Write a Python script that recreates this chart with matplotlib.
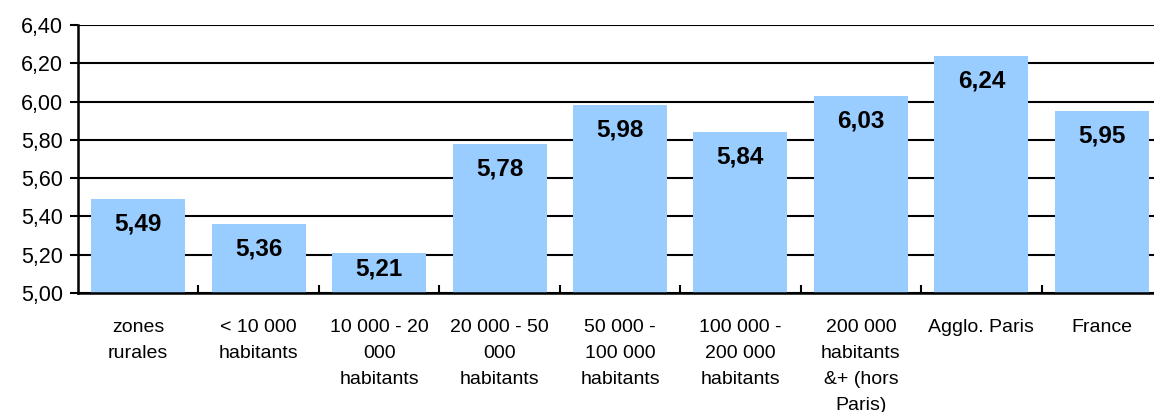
import numpy as np
import matplotlib.pyplot as plt
from matplotlib.ticker import FuncFormatter, FixedLocator

plt.rcParams['font.family'] = ['Liberation Sans', 'DejaVu Sans']

categories = [
    "zones\nrurales",
    "< 10 000\nhabitants",
    "10 000 - 20\n000\nhabitants",
    "20 000 - 50\n000\nhabitants",
    "50 000 -\n100 000\nhabitants",
    "100 000 -\n200 000\nhabitants",
    "200 000\nhabitants\n&+ (hors\nParis)",
    "Agglo. Paris",
    "France",
]
values = [5.49, 5.36, 5.21, 5.78, 5.98, 5.84, 6.03, 6.24, 5.95]

fig = plt.figure(figsize=(11.54, 4.12), dpi=100)
# the chart is cropped on the right in the reference, so the axes run past the figure
ax = fig.add_axes([78 / 1154, 1 - 293 / 412, 1084 / 1154, 268 / 412])

x = np.arange(len(values))
ax.bar(x, np.array(values) - 5.0, bottom=5.0, width=0.78, color='#99CCFF', zorder=3)

ax.set_xlim(-0.5, len(values) - 0.5)
ax.set_ylim(5.0, 6.4)
ax.set_yticks(np.arange(5.0, 6.41, 0.2))
ax.yaxis.set_major_formatter(FuncFormatter(lambda v, p: f"{v:.2f}".replace('.', ',')))
ax.grid(axis='y', color='black', linewidth=1.5, zorder=1)

# category labels without ticks, tick marks at category boundaries
ax.set_xticks(x)
ax.set_xticklabels(categories, fontsize=14, linespacing=1.68, va='top')
ax.tick_params(axis='x', length=0, pad=19)
ax.xaxis.set_minor_locator(FixedLocator(np.arange(0.5, len(values) - 0.5, 1)))
ax.tick_params(axis='x', which='minor', direction='in', length=6, width=1.5, color='black')
ax.tick_params(axis='y', direction='out', length=6, width=1.5, labelsize=15.5, pad=5)

for s in ['top', 'right']:
    ax.spines[s].set_visible(False)
for s in ['left', 'bottom']:
    ax.spines[s].set_linewidth(1.8)
    ax.spines[s].set_zorder(4)

for xi, v in zip(x, values):
    off = min(0.13, (v - 5.0) * 0.4)
    ax.text(xi, v - off, f"{v:.2f}".replace('.', ','), ha='center', va='center',
            fontsize=17.5, fontweight='bold', zorder=5)

fig.savefig('out.png', dpi=100)
